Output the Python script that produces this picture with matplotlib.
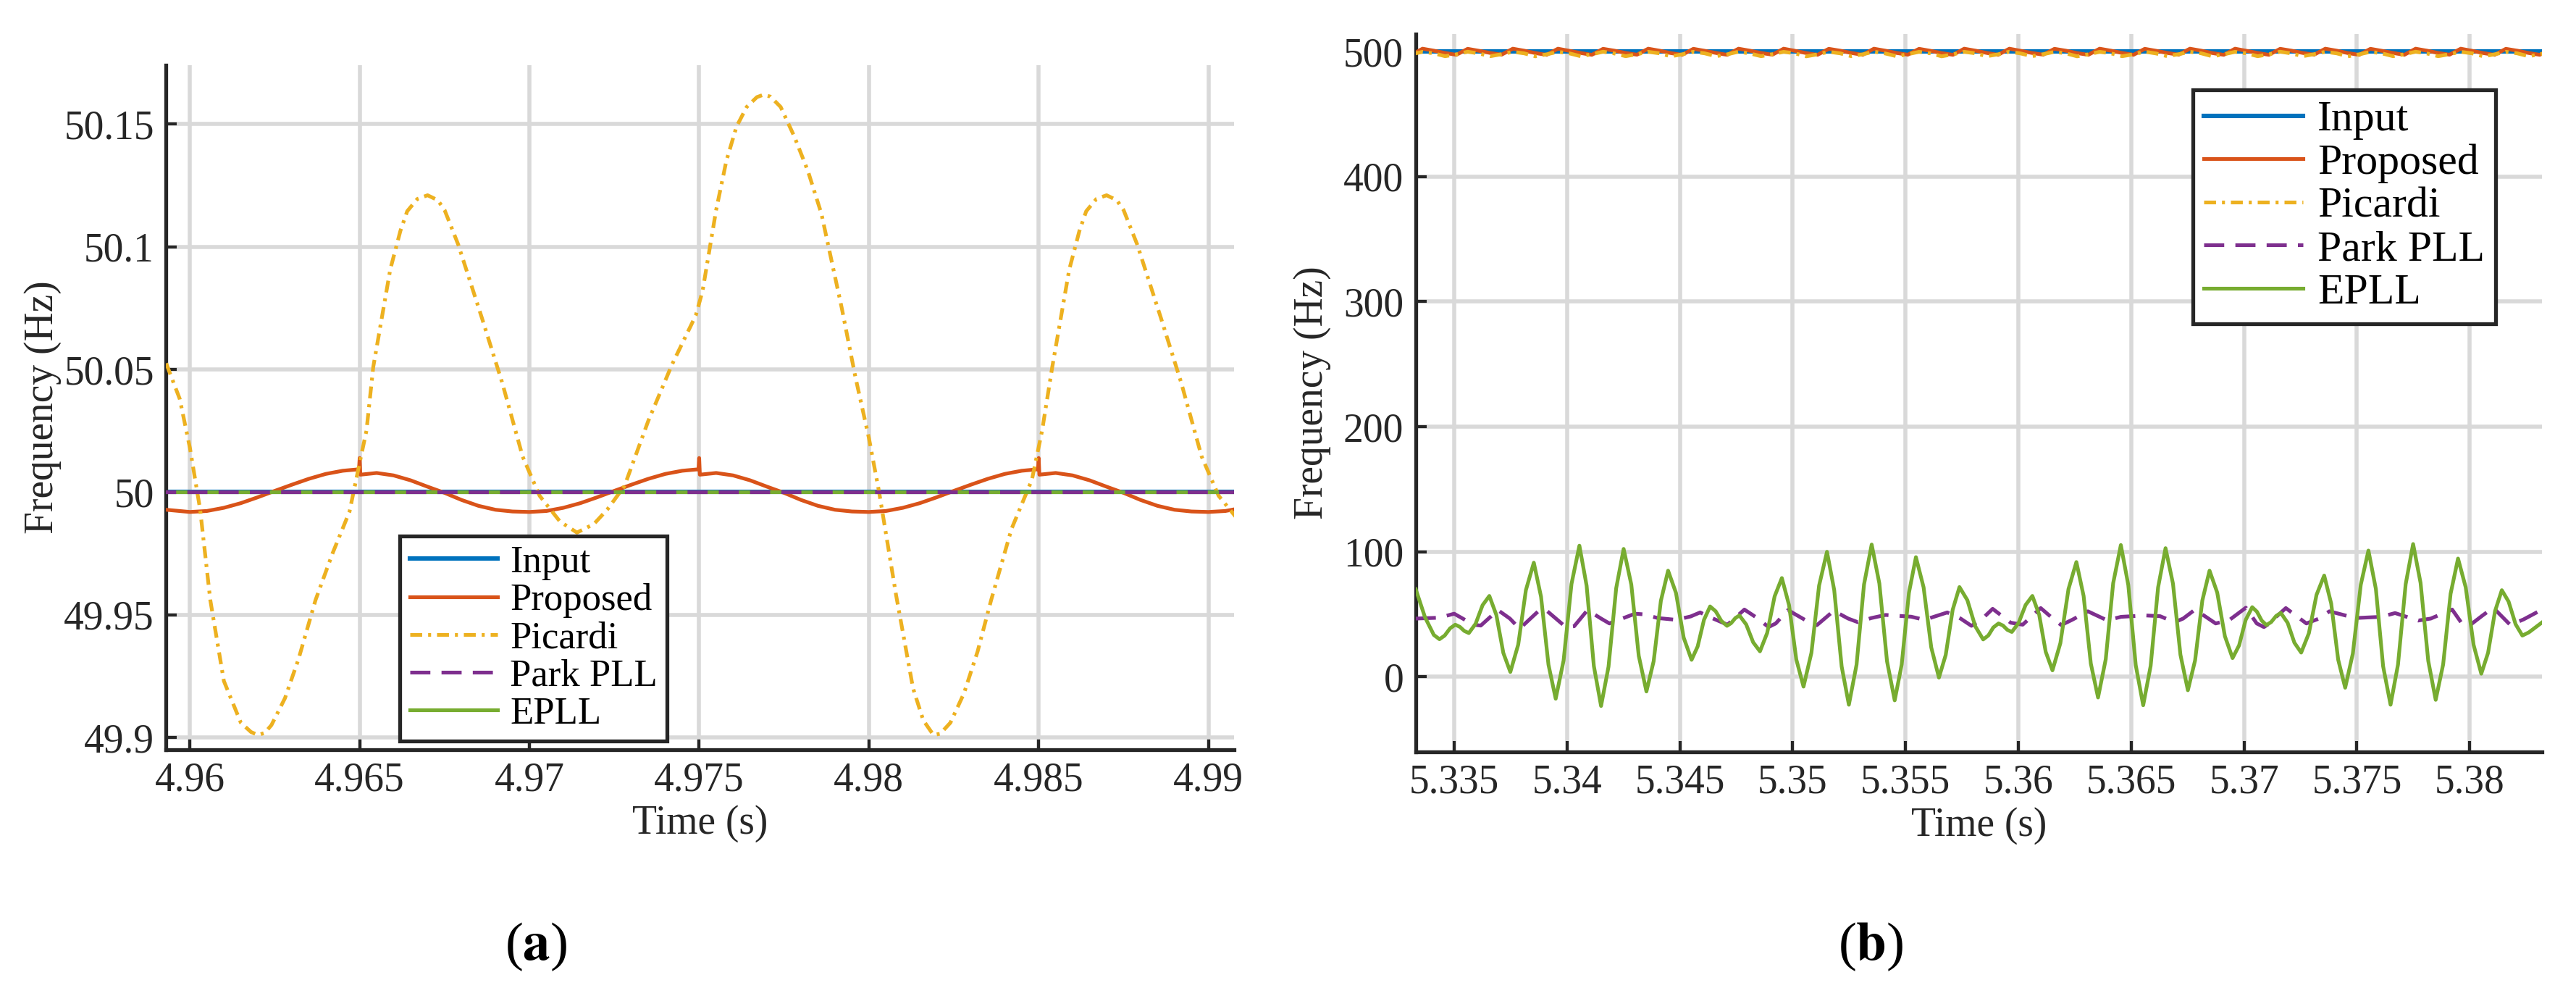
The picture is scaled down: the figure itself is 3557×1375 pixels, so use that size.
import numpy as np
import matplotlib
matplotlib.use('Agg')
import matplotlib.pyplot as plt

plt.rcParams['font.family'] = ['Liberation Serif', 'DejaVu Serif']
plt.rcParams['mathtext.fontset'] = 'stix'

labels = ['Input', 'Proposed', 'Picardi', 'Park PLL', 'EPLL']
colors = ['#0072BD', '#D95319', '#EDB120', '#7E2F8E', '#77AC30']
grid_c = '#d9d9d9'
axis_c = '#262626'
SERIF = 'Liberation Serif'

# ---------------- (a) data ----------------
a_xticks = [4.96, 4.965, 4.97, 4.975, 4.98, 4.985, 4.99]
a_xticklabels = ['4.96', '4.965', '4.97', '4.975', '4.98', '4.985', '4.99']
a_yticks = [49.9, 49.95, 50, 50.05, 50.1, 50.15]
a_yticklabels = ['49.9', '49.95', '50', '50.05', '50.1', '50.15']

a_flat_t = [4.959, 4.991]
a_input_f = [50, 50]
a_park_f = [50, 50]
a_epll_f = [50, 50]

# (time, freq)
a_proposed = [
    (4.9593, 49.9928), (4.9600, 49.9919), (4.9605, 49.9923), (4.9610, 49.9936),
    (4.9615, 49.9955), (4.9620, 49.9979), (4.9625, 50.0005), (4.9630, 50.0030),
    (4.9635, 50.0054), (4.9640, 50.0074), (4.9645, 50.0087), (4.96498, 50.0093),
    (4.9650, 50.0139), (4.96502, 50.0071), (4.9655, 50.0078), (4.9660, 50.0068),
    (4.9665, 50.0048), (4.9670, 50.0022), (4.9675, 49.9997), (4.9680, 49.9968),
    (4.9685, 49.9944), (4.9690, 49.9928), (4.9695, 49.9921), (4.9700, 49.9919),
    (4.9705, 49.9923), (4.9710, 49.9936), (4.9715, 49.9955), (4.9720, 49.9979),
    (4.9725, 50.0005), (4.9730, 50.0030), (4.9735, 50.0054), (4.9740, 50.0074),
    (4.9745, 50.0087), (4.97498, 50.0093), (4.9750, 50.0139), (4.97502, 50.0071),
    (4.9755, 50.0078), (4.9760, 50.0068), (4.9765, 50.0048), (4.9770, 50.0022),
    (4.9775, 49.9997), (4.9780, 49.9968), (4.9785, 49.9944), (4.9790, 49.9928),
    (4.9795, 49.9921), (4.9800, 49.9919), (4.9805, 49.9923), (4.9810, 49.9936),
    (4.9815, 49.9955), (4.9820, 49.9979), (4.9825, 50.0005), (4.9830, 50.0030),
    (4.9835, 50.0054), (4.9840, 50.0074), (4.9845, 50.0087), (4.98498, 50.0093),
    (4.9850, 50.0139), (4.98502, 50.0071), (4.9855, 50.0078), (4.9860, 50.0068),
    (4.9865, 50.0048), (4.9870, 50.0022), (4.9875, 49.9997), (4.9880, 49.9968),
    (4.9885, 49.9944), (4.9890, 49.9928), (4.9895, 49.9921), (4.9900, 49.9919),
    (4.9905, 49.9923), (4.9910, 49.9936),
]

a_picardi = [
    (4.9593, 50.0525), (4.9597, 50.038), (4.9600, 50.018), (4.9603, 49.993),
    (4.9606, 49.956), (4.9610, 49.923), (4.9615, 49.906), (4.9618, 49.9022),
    (4.9620, 49.901), (4.9622, 49.9018), (4.9624, 49.905), (4.9628, 49.916),
    (4.9632, 49.932), (4.9637, 49.956), (4.9642, 49.975), (4.9647, 49.992),
    (4.9650, 50.012), (4.9652, 50.025), (4.9654, 50.051), (4.9659, 50.0907),
    (4.9662, 50.1065), (4.9664, 50.1145), (4.9667, 50.1195), (4.9670, 50.121),
    (4.9673, 50.119), (4.9675, 50.115), (4.9679, 50.101), (4.9686, 50.071),
    (4.9692, 50.0445), (4.9698, 50.0145), (4.9703, 49.9985), (4.9709, 49.988),
    (4.9714, 49.9835), (4.9719, 49.987), (4.9723, 49.993), (4.9728, 50.0025),
    (4.9735, 50.029), (4.9742, 50.052), (4.9749, 50.072), (4.9751, 50.082),
    (4.9755, 50.115), (4.9758, 50.135), (4.9761, 50.149), (4.9764, 50.157),
    (4.9767, 50.161), (4.9769, 50.162), (4.9771, 50.1612), (4.9774, 50.157),
    (4.9778, 50.145), (4.9782, 50.131), (4.9786, 50.1135), (4.9792, 50.075),
    (4.9796, 50.047), (4.9800, 50.022), (4.9803, 50.0), (4.9808, 49.958),
    (4.9813, 49.92), (4.9816, 49.907), (4.9819, 49.901), (4.9821, 49.9015),
    (4.9824, 49.906), (4.9828, 49.918), (4.9832, 49.935), (4.9836, 49.956),
    (4.9842, 49.985), (4.9848, 50.005), (4.9851, 50.025), (4.9854, 50.051),
    (4.9859, 50.0907), (4.9862, 50.1065), (4.9864, 50.1145), (4.9867, 50.1195),
    (4.9870, 50.121), (4.9873, 50.119), (4.9875, 50.115), (4.9879, 50.101),
    (4.9886, 50.071), (4.9892, 50.0445), (4.9898, 50.0145), (4.9903, 49.9985),
    (4.9908, 49.99),
]

# ---------------- (b) data ----------------
b_xticks = [5.335, 5.34, 5.345, 5.35, 5.355, 5.36, 5.365, 5.37, 5.375, 5.38]
b_xticklabels = ['5.335', '5.34', '5.345', '5.35', '5.355', '5.36', '5.365', '5.37', '5.375', '5.38']
b_yticks = [0, 100, 200, 300, 400, 500]
b_yticklabels = ['0', '100', '200', '300', '400', '500']

b_input_t = [5.333, 5.384]
b_input_f = [500, 500]

# top ripple sampled every 0.5 ms from 5.3331
b_top_t = np.arange(102) * 0.0005 + 5.3331
b_proposed_f = [
    497.4, 502.3, 500.7, 498.9, 497.4, 502.2, 500.6, 498.9, 497.5, 502.3, 500.7, 498.8,
    497.4, 502.3, 500.6, 498.9, 497.4, 502.2, 500.7, 498.9, 497.5, 502.3, 500.7, 498.8,
    497.4, 502.2, 500.6, 498.9, 497.4, 502.3, 500.7, 498.9, 497.5, 502.3, 500.6, 498.8,
    497.4, 502.2, 500.7, 498.9, 497.4, 502.3, 500.7, 498.9, 497.5, 502.2, 500.6, 498.8,
    497.4, 502.3, 500.7, 498.9, 497.4, 502.3, 500.6, 498.9, 497.5, 502.2, 500.7, 498.8,
    497.4, 502.3, 500.7, 498.9, 497.4, 502.2, 500.6, 498.9, 497.5, 502.3, 500.7, 498.8,
    497.4, 502.3, 500.6, 498.9, 497.4, 502.2, 500.7, 498.9, 497.5, 502.3, 500.7, 498.8,
    497.4, 502.2, 500.6, 498.9, 497.4, 502.3, 500.7, 498.9, 497.5, 502.3, 500.6, 498.8,
    497.4, 502.2, 500.7, 498.9, 497.4, 502.3,
]
b_picardi_f = [
    497.8, 499.8, 498.6, 496.3, 497.8, 499.9, 498.5, 496.3, 497.9, 499.8, 498.6, 496.2,
    497.8, 499.8, 498.6, 496.3, 497.8, 499.9, 498.5, 496.3, 497.9, 499.8, 498.6, 496.2,
    497.8, 499.8, 498.6, 496.3, 497.8, 499.9, 498.5, 496.3, 497.9, 499.8, 498.6, 496.2,
    497.8, 499.8, 498.6, 496.3, 497.8, 499.9, 498.5, 496.3, 497.9, 499.8, 498.6, 496.2,
    497.8, 499.8, 498.6, 496.3, 497.8, 499.9, 498.5, 496.3, 497.9, 499.8, 498.6, 496.2,
    497.8, 499.8, 498.6, 496.3, 497.8, 499.9, 498.5, 496.3, 497.9, 499.8, 498.6, 496.2,
    497.8, 499.8, 498.6, 496.3, 497.8, 499.9, 498.5, 496.3, 497.9, 499.8, 498.6, 496.2,
    497.8, 499.8, 498.6, 496.3, 497.8, 499.9, 498.5, 496.3, 497.9, 499.8, 498.6, 496.2,
    497.8, 499.8, 498.6, 496.3, 497.8, 499.9,
]

b_park = [
    (5.33330, 46.6), (5.33435, 47.3), (5.33500, 50.5), (5.33586, 41.7), (5.33618, 41.0),
    (5.33694, 53.4), (5.33747, 46.6), (5.33790, 38.5), (5.33876, 53.0), (5.33903, 54.0),
    (5.33995, 39.8), (5.34032, 40.5), (5.34091, 53.4), (5.34151, 46.6), (5.34188, 42.7),
    (5.34301, 50.5), (5.34339, 50.0), (5.34403, 47.0), (5.34484, 45.6), (5.34548, 48.3),
    (5.34590, 51.5), (5.34636, 47.5), (5.34711, 41.7), (5.34786, 53.8), (5.34839, 47.5),
    (5.34893, 39.8), (5.34925, 42.7), (5.34979, 53.4), (5.35054, 45.6), (5.35107, 41.3),
    (5.35182, 52.8), (5.35246, 46.6), (5.35289, 43.7), (5.35348, 47.0), (5.35412, 49.5),
    (5.35525, 48.1), (5.35584, 45.6), (5.35685, 51.5), (5.35744, 46.6), (5.35792, 40.8),
    (5.35835, 45.6), (5.35886, 54.4), (5.35966, 43.3), (5.36019, 41.7), (5.36099, 55.0),
    (5.36153, 46.6), (5.36190, 41.4), (5.36238, 45.6), (5.36308, 52.4), (5.36393, 45.2),
    (5.36455, 48.0), (5.36564, 49.1), (5.36628, 48.5), (5.36692, 43.7), (5.36730, 46.6),
    (5.36783, 53.8), (5.36874, 42.7), (5.36933, 45.2), (5.37008, 55.3), (5.37056, 42.7),
    (5.37088, 39.8), (5.37104, 41.7), (5.37185, 55.0), (5.37276, 42.7), (5.37332, 46.6),
    (5.37378, 52.4), (5.37432, 49.9), (5.37491, 47.0), (5.37608, 48.0), (5.37669, 51.0),
    (5.37771, 45.0), (5.37827, 46.6), (5.37922, 53.8), (5.37965, 42.7), (5.37997, 40.8),
    (5.38056, 49.0), (5.38104, 55.3), (5.38180, 41.4), (5.38239, 46.0), (5.38320, 53.8),
]

# extremes plus the points a third of the way between them
b_epll = [
    (5.33330, 70.0), (5.33371, 47.6), (5.33410, 33.5), (5.33435, 30.1),
    (5.33458, 33.0), (5.33482, 38.8), (5.33505, 41.7),
    (5.33525, 40.0), (5.33545, 36.7), (5.33565, 35.0),
    (5.33595, 42.4), (5.33626, 57.3), (5.33656, 64.7),
    (5.33687, 49.5), (5.33718, 19.1), (5.33749, 3.9),
    (5.33784, 25.8), (5.33818, 69.4), (5.33853, 91.3),
    (5.33885, 64.1), (5.33918, 9.7), (5.33950, -17.5),
    (5.33985, 13.1), (5.34020, 74.3), (5.34055, 104.9),
    (5.34087, 72.9), (5.34119, 8.7), (5.34151, -23.3),
    (5.34184, 8.1), (5.34218, 70.9), (5.34251, 102.3),
    (5.34285, 73.8), (5.34318, 16.8), (5.34352, -11.7),
    (5.34384, 12.5), (5.34416, 60.8), (5.34448, 84.9),
    (5.34483, 67.1), (5.34517, 31.4), (5.34552, 13.6),
    (5.34579, 24.3), (5.34607, 45.6), (5.34634, 56.3),
    (5.34659, 52.4), (5.34684, 44.7), (5.34709, 40.8),
    (5.34727, 42.9), (5.34746, 47.0), (5.34764, 49.1),
    (5.34794, 41.9), (5.34825, 27.6), (5.34855, 20.4),
    (5.34887, 35.1), (5.34920, 64.4), (5.34952, 79.0),
    (5.34984, 57.3), (5.35016, 13.9), (5.35048, -7.8),
    (5.35083, 19.2), (5.35117, 73.0), (5.35152, 100.0),
    (5.35184, 69.4), (5.35217, 8.3), (5.35249, -22.3),
    (5.35283, 9.7), (5.35316, 73.8), (5.35350, 105.8),
    (5.35384, 74.7), (5.35418, 12.4), (5.35452, -18.8),
    (5.35483, 9.8), (5.35515, 67.1), (5.35546, 95.7),
    (5.35580, 71.6), (5.35614, 23.5), (5.35648, -0.6),
    (5.35678, 17.5), (5.35709, 53.7), (5.35739, 71.8),
    (5.35774, 61.3), (5.35809, 40.4), (5.35844, 29.9),
    (5.35867, 33.1), (5.35889, 39.5), (5.35912, 42.7),
    (5.35932, 41.0), (5.35951, 37.6), (5.35971, 35.9),
    (5.36001, 43.1), (5.36032, 57.5), (5.36062, 64.7),
    (5.36092, 49.8), (5.36121, 20.1), (5.36151, 5.2),
    (5.36186, 26.9), (5.36222, 70.2), (5.36257, 91.8),
    (5.36289, 64.7), (5.36321, 10.6), (5.36353, -16.5),
    (5.36387, 14.0), (5.36420, 74.9), (5.36454, 105.4),
    (5.36487, 73.4), (5.36520, 9.3), (5.36553, -22.7),
    (5.36586, 8.7), (5.36619, 71.5), (5.36652, 102.9),
    (5.36685, 74.5), (5.36718, 17.7), (5.36751, -10.7),
    (5.36783, 13.2), (5.36815, 61.0), (5.36847, 84.9),
    (5.36881, 67.4), (5.36915, 32.5), (5.36949, 15.0),
    (5.36978, 25.2), (5.37007, 45.5), (5.37036, 55.7),
    (5.37057, 52.1), (5.37078, 45.0), (5.37099, 41.4),
    (5.37120, 43.8), (5.37142, 48.7), (5.37163, 51.1),
    (5.37193, 43.2), (5.37223, 27.3), (5.37253, 19.4),
    (5.37287, 34.8), (5.37321, 65.6), (5.37355, 81.0),
    (5.37386, 58.6), (5.37417, 13.7), (5.37448, -8.7),
    (5.37482, 18.7), (5.37517, 73.6), (5.37551, 101.0),
    (5.37584, 70.2), (5.37616, 8.5), (5.37649, -22.3),
    (5.37682, 9.8), (5.37716, 74.1), (5.37749, 106.2),
    (5.37782, 75.1), (5.37816, 12.8), (5.37849, -18.4),
    (5.37882, 9.9), (5.37915, 66.4), (5.37948, 94.6),
    (5.37982, 71.6), (5.38017, 25.5), (5.38051, 2.5),
    (5.38081, 19.2), (5.38112, 52.6), (5.38142, 69.3),
    (5.38172, 60.2), (5.38203, 42.1), (5.38233, 33.0),
    (5.38262, 35.6), (5.38320, 43.5),
]


def unzip(pairs):
    return [p[0] for p in pairs], [p[1] for p in pairs]


LW = 3.7
pic_dash = (0, (3.2, 1.6, 0.8, 1.6))
park_dash = (0, (5.4, 3.0))


def style_axes(ax, xlim, ylim, xt, xtl, yt, ytl):
    ax.set_xlim(*xlim)
    ax.set_ylim(*ylim)
    ax.set_xticks(xt, xtl)
    ax.set_yticks(yt, ytl)
    ax.grid(True, color=grid_c, lw=4.0)
    ax.set_axisbelow(True)
    for s in ['top', 'right']:
        ax.spines[s].set_visible(False)
    for s in ['left', 'bottom']:
        ax.spines[s].set_linewidth(3.8)
        ax.spines[s].set_color(axis_c)
    ax.tick_params(direction='in', length=11, width=3, color=axis_c,
                   labelsize=40, labelcolor=axis_c)
    ax.tick_params(axis='x', pad=12)
    ax.tick_params(axis='y', pad=12)
    for lab in ax.get_xticklabels() + ax.get_yticklabels():
        lab.set_fontfamily(SERIF)


def add_legend(ax, loc, anchor, size, hlen, spacing):
    h, l = ax.get_legend_handles_labels()
    leg = ax.legend(h, l, loc=loc, bbox_to_anchor=anchor, borderaxespad=0,
                    prop={'family': SERIF, 'size': size}, frameon=True,
                    fancybox=False, edgecolor=axis_c, framealpha=1,
                    handlelength=hlen, handletextpad=0.33,
                    labelspacing=spacing, borderpad=0.25)
    leg.get_frame().set_linewidth(3.8)
    leg.set_zorder(10)
    return leg


fig = plt.figure(figsize=(35.57, 13.75), dpi=100)

# ---------------- panel (a) ----------------
ax1 = fig.add_axes([0.0645, 0.2473, 0.4145, 0.6872])
pt, pf = unzip(a_proposed)
ct, cf = unzip(a_picardi)
ax1.plot(a_flat_t, a_input_f, color=colors[0], lw=4.4, label=labels[0], zorder=2)
ax1.plot(pt, pf, color=colors[1], lw=LW, label=labels[1], zorder=3)
ax1.plot(ct, cf, color=colors[2], lw=LW, ls=pic_dash, label=labels[2], zorder=4)
ax1.plot(a_flat_t, a_park_f, color=colors[3], lw=LW, ls=park_dash, label=labels[3], zorder=6)
ax1.plot(a_flat_t, a_epll_f, color=colors[4], lw=LW, label=labels[4], zorder=5)
style_axes(ax1, (4.9593, 4.99075), (49.895, 50.174),
           a_xticks, a_xticklabels, a_yticks, a_yticklabels)
ax1.set_xlabel('Time (s)', fontsize=40, color=axis_c, labelpad=5)
ax1.set_ylabel('Frequency (Hz)', fontsize=40, color=axis_c, labelpad=2)
add_legend(ax1, 'lower left', (0.219, 0.0127), 38, 2.3, 0.08)

# ---------------- panel (b) ----------------
ax2 = fig.add_axes([0.5496, 0.2451, 0.4372, 0.7207])
kt, kf = unzip(b_park)
et, ef = unzip(b_epll)
ax2.plot(b_input_t, b_input_f, color=colors[0], lw=4.4, label=labels[0], zorder=2)
ax2.plot(b_top_t, b_proposed_f, color=colors[1], lw=LW, label=labels[1], zorder=3)
ax2.plot(b_top_t, b_picardi_f, color=colors[2], lw=LW, ls=pic_dash, label=labels[2], zorder=4)
ax2.plot(kt, kf, color=colors[3], lw=LW, ls=park_dash, label=labels[3], zorder=5)
ax2.plot(et, ef, color=colors[4], lw=LW, label=labels[4], zorder=6,
         solid_joinstyle='round')
style_axes(ax2, (5.3333, 5.3832), (-60, 514),
           b_xticks, b_xticklabels, b_yticks, b_yticklabels)
ax2.set_xlabel('Time (s)', fontsize=40, color=axis_c, labelpad=5)
ax2.set_ylabel('Frequency (Hz)', fontsize=40, color=axis_c, labelpad=12)
add_legend(ax2, 'upper left', (0.69, 0.9226), 43, 2.3, 0.08)

# captions
fig.text(0.208, 0.0495, r'($\mathbf{a}$)', fontsize=54, ha='center', va='center')
fig.text(0.7262, 0.0495, r'($\mathbf{b}$)', fontsize=54, ha='center', va='center')

fig.savefig('out.png', dpi=100)
